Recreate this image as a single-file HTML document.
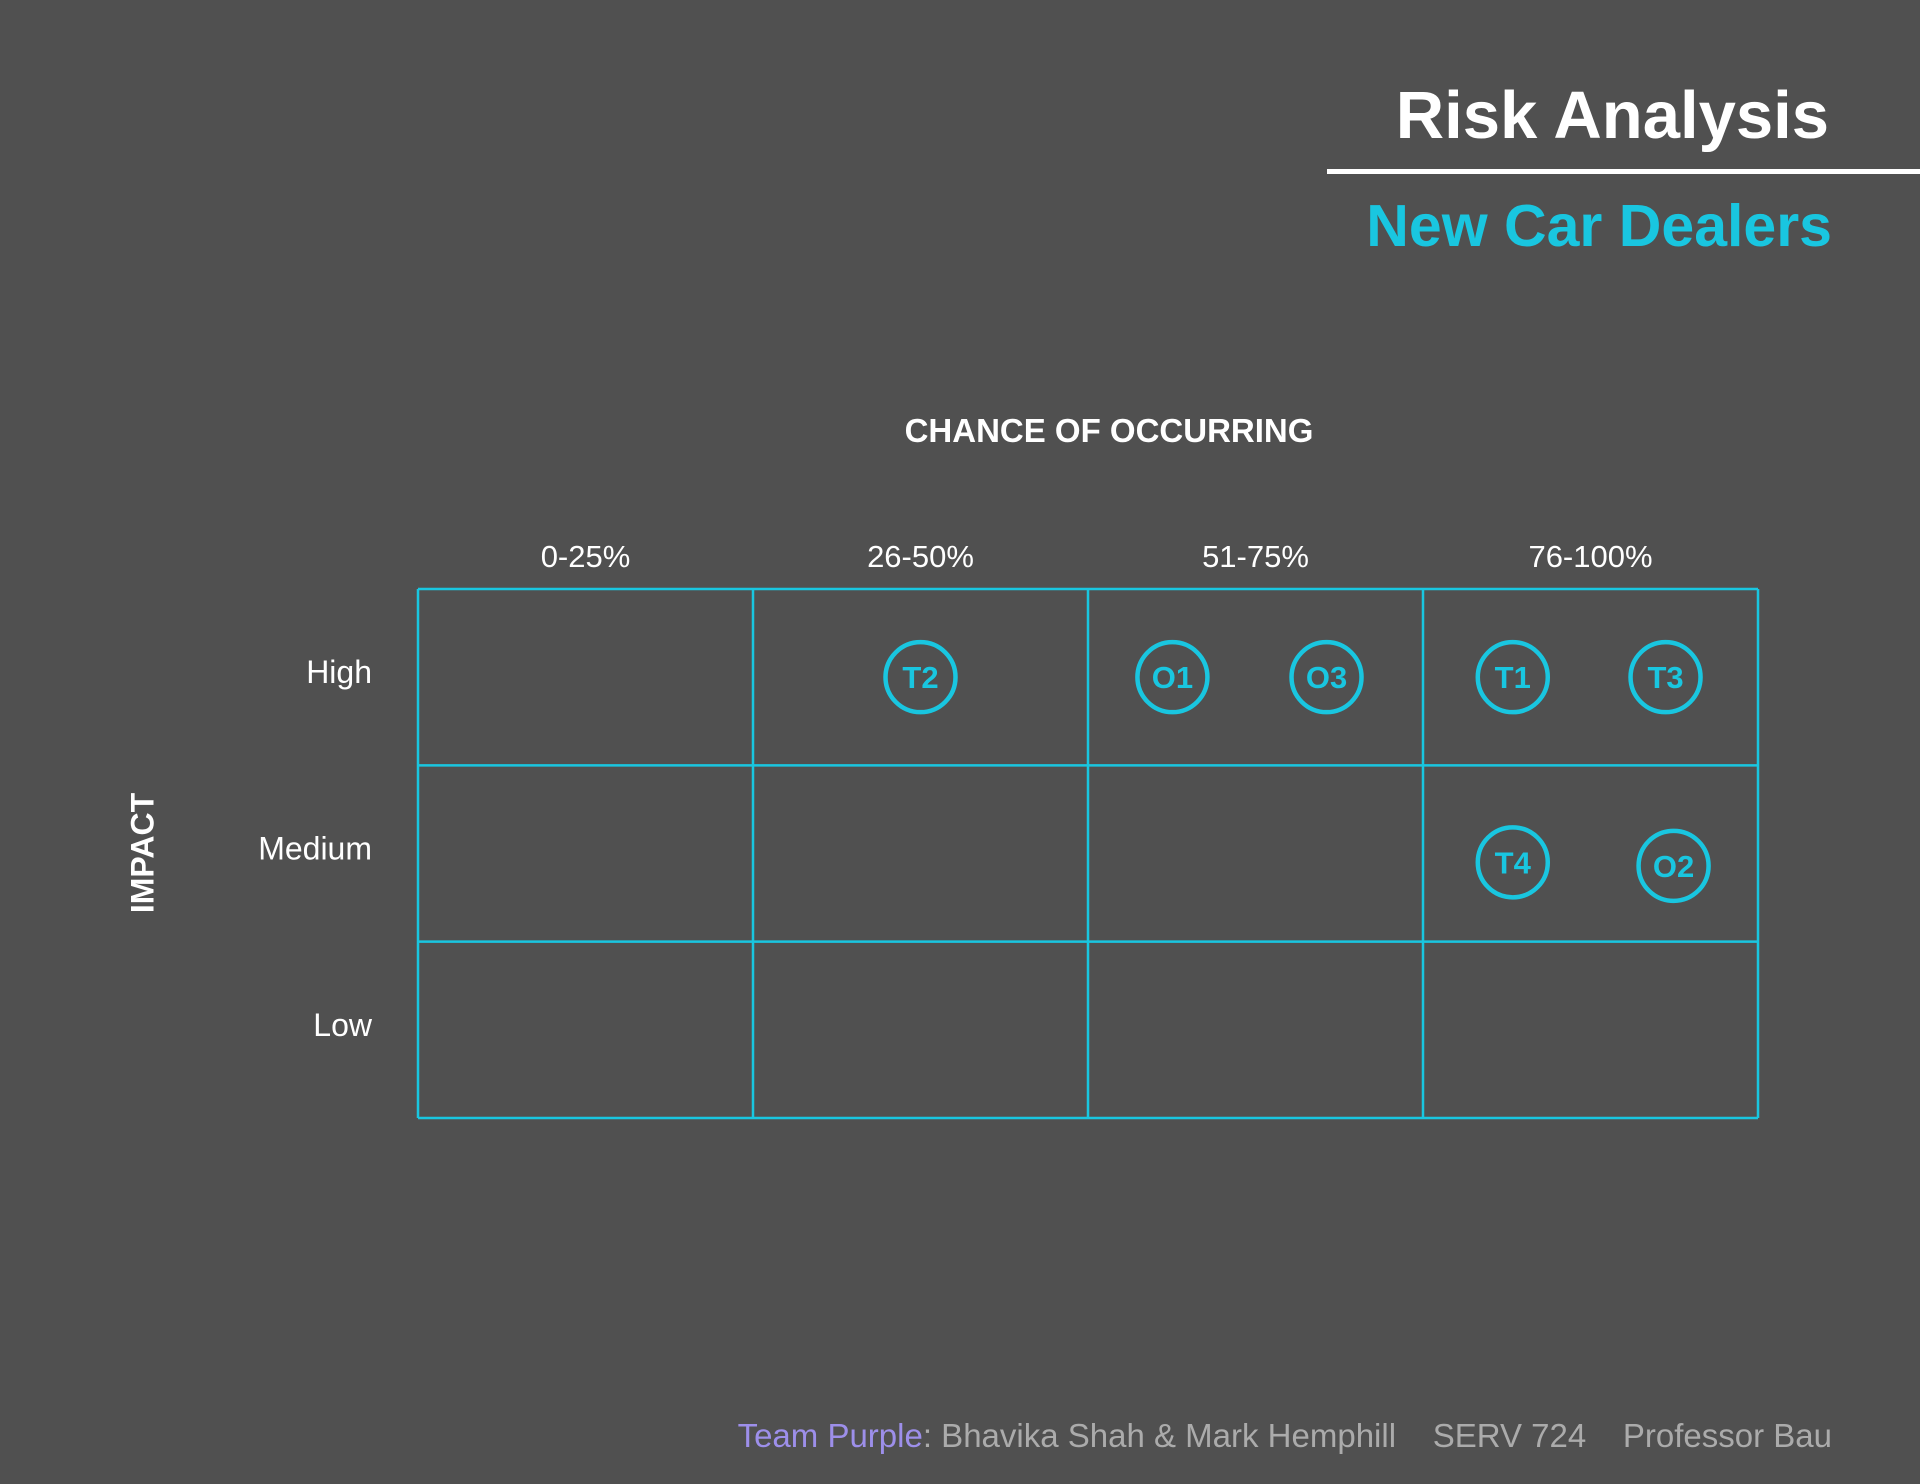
<!DOCTYPE html>
<html><head><meta charset="utf-8"><style>
html,body{margin:0;padding:0;background:#505050;}
body{width:1920px;height:1484px;position:relative;overflow:hidden;font-family:"Liberation Sans",sans-serif;}
.t{position:absolute;white-space:nowrap;}
</style></head><body>
<div class="t" style="right:91px;top:77px;font-size:67px;font-weight:bold;color:#fff;">Risk Analysis</div>
<div style="position:absolute;left:1327px;top:169px;width:593px;height:5px;background:#fff;"></div>
<div class="t" style="right:88px;top:192px;font-size:59px;font-weight:bold;color:#19c6e0;">New Car Dealers</div>
<div class="t" style="left:1109px;top:412px;transform:translateX(-50%);font-size:33px;font-weight:bold;color:#fff;">CHANCE OF OCCURRING</div>
<div class="t" style="left:143px;top:853px;transform:translate(-50%,-50%) rotate(-90deg);font-size:32px;font-weight:bold;color:#fff;">IMPACT</div>
<svg id="chart" width="1920" height="1484" style="position:absolute;left:0;top:0;"></svg>
<div class="t" style="right:88px;top:1417px;font-size:33px;color:#ababab;"><span style="color:#9d8fea;">Team Purple</span>: Bhavika Shah &amp; Mark Hemphill&nbsp;&nbsp;&nbsp;&nbsp;SERV 724&nbsp;&nbsp;&nbsp;&nbsp;Professor Bau</div>
<script>
const colLabels=["0-25%","26-50%","51-75%","76-100%"];
const rowLabels=["High","Medium","Low"];
const riskNames=["T2","O1","O3","T1","T3","T4","O2"];
const riskChance=[37.5,56.3,67.8,81.7,93.1,81.7,93.7];
const riskImpact=[2.5,2.5,2.5,2.5,2.5,1.45,1.43];
const X0=418,X1=1758,Y0=589,Y1=1118;
const xs=p=>X0+p/100*(X1-X0);
const ys=v=>Y1-v/3*(Y1-Y0);
const svg=document.getElementById('chart');
const NS='http://www.w3.org/2000/svg';
const C='#19c6e0';
function mk(tag,attrs){const e=document.createElementNS(NS,tag);for(const k in attrs)e.setAttribute(k,attrs[k]);svg.appendChild(e);return e;}
for(let i=0;i<colLabels.length;i++){
  const t=mk('text',{x:xs(i*25+12.5),y:567,'text-anchor':'middle','font-size':31,fill:'#fff','font-family':'Liberation Sans, sans-serif'});
  t.textContent=colLabels[i];
  
  
}
for(let j=0;j<rowLabels.length;j++){
  const t=mk('text',{x:372,y:ys(2.5-j)+6,'text-anchor':'end','font-size':32,fill:'#fff','font-family':'Liberation Sans, sans-serif'});
  t.textContent=rowLabels[j];
  
  
}
for(let i=0;i<=colLabels.length;i++){
  const l=mk('line',{x1:xs(i*25),x2:xs(i*25),y1:Y0,y2:Y1,stroke:C,'stroke-width':2.5});
  
  
}
for(let j=0;j<=rowLabels.length;j++){
  const l=mk('line',{x1:X0,x2:X1,y1:ys(j),y2:ys(j),stroke:C,'stroke-width':2.5});
  
  
}
for(let k=0;k<riskNames.length;k++){
  const cx=xs(riskChance[k]),cy=ys(riskImpact[k]);
  const c=mk('circle',{cx:cx,cy:cy,r:35,fill:'none',stroke:C,'stroke-width':4.5});
  
  
  const t=mk('text',{x:cx,y:cy+11,'text-anchor':'middle','font-size':31,'font-weight':'bold',fill:C,'font-family':'Liberation Sans, sans-serif'});
  t.textContent=riskNames[k];
  
  
}
</script>
</body></html>
